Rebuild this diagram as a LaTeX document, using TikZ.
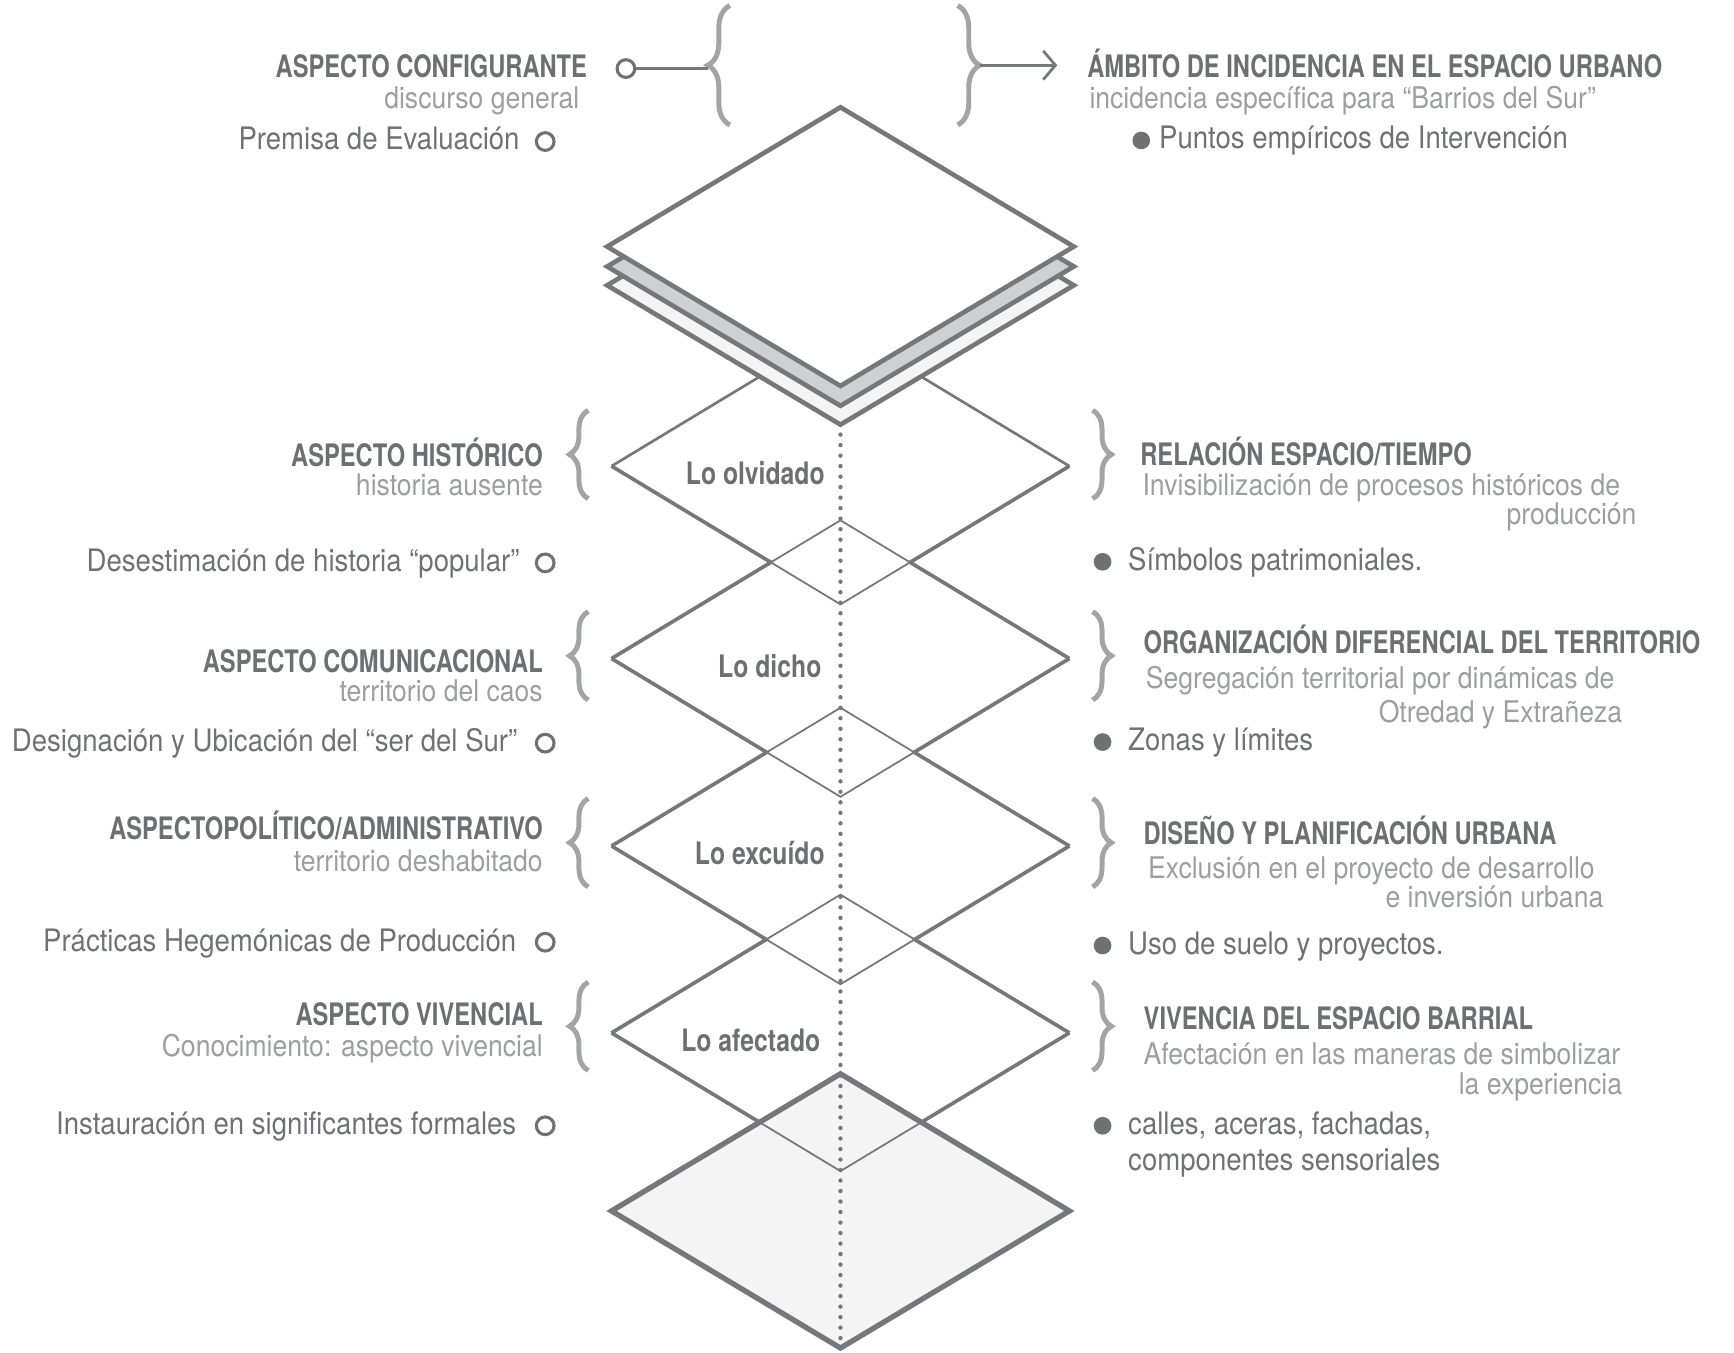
\documentclass[tikz,border=0pt]{standalone}
\usepackage{fontspec}
\setmainfont{TeX Gyre Heros}[FakeStretch=0.89]
\newfontfamily\headfont{TeX Gyre Heros}[FakeStretch=0.765]
\newfontfamily\lofont{TeX Gyre Heros}[FakeStretch=0.8]
\definecolor{rim}{HTML}{76777B}
\definecolor{headgray}{HTML}{6E6F73}
\definecolor{itemgray}{HTML}{707175}
\definecolor{subgray}{HTML}{9D9EA1}
\definecolor{bracegray}{HTML}{A3A4A7}
\definecolor{midsheet}{HTML}{CFD0D2}
\definecolor{lowsheet}{HTML}{F4F4F4}
\usetikzlibrary{arrows.meta, positioning, calc, decorations.pathreplacing}
\tikzset{
  aspect/.style={font=\headfont\bfseries\fontsize{28}{30}\selectfont, text=headgray, inner sep=0pt},
  sub/.style={font=\fontsize{27}{30}\selectfont, text=subgray, inner sep=0pt},
  item/.style={font=\fontsize{28}{30}\selectfont, text=itemgray, inner sep=0pt},
  stratum/.style={font=\lofont\bfseries\fontsize{28}{30}\selectfont, text=headgray, inner sep=0pt, anchor=base east},
  hollow/.style={circle, draw=itemgray, line width=2.8pt, inner sep=0pt, minimum size=16pt},
  bullet/.style={circle, fill=itemgray, inner sep=0pt, minimum size=16pt},
  rimline/.style={draw=rim, line width=3.3pt},
  seam/.style={draw=rim, line width=1.6pt, line join=miter},
  sheet/.style={draw=rim, line width=4.2pt, line join=miter},
  curly/.style={draw=bracegray, line width=4.5pt, decorate, decoration={brace, amplitude=#1}},
  curly/.default=17pt,
  link/.style={draw=rim, line width=2pt},
  dotline/.style={draw=rim, line width=4pt, line cap=round, dash pattern=on 0pt off 9.5pt},
}

\begin{document}
\begin{tikzpicture}[x=1pt, y=-1pt]
  \useasboundingbox (0,0) rectangle (1568,1223);

  % base sheet
  \draw[sheet, line width=4.8pt, fill=lowsheet] (553,1095) -- (760,971) -- (967,1095) -- (760,1219) -- cycle;
  % strata: outer edges thick, overlaps thin
  \foreach \ca/\cb in {421.5/595.5, 595.5/765, 765/934, 934/1095} {
    \pgfmathsetmacro\ym{(\ca+\cb)/2}
    \pgfmathsetmacro\dx{207*(1-(\cb-\ca)/250)}
    \draw[rimline] (553,\ca) -- (760-\dx,\ym) (760-\dx,\ym) -- (553,\cb)
                   (967,\ca) -- (760+\dx,\ym) (760+\dx,\ym) -- (967,\cb);
    \draw[seam] (760-\dx,\ym) -- (760,\ca+125) -- (760+\dx,\ym) -- (760,\cb-125) -- cycle;
  }
  \draw[rimline, line width=2.4pt] (553,421.5) -- (760,296.5) -- (967,421.5);
  % stacked sheets on top
  \foreach \off/\tone in {35/lowsheet, 18/midsheet, 0/white}
    \draw[sheet, fill=\tone] (549,223+\off) -- (760,97+\off) -- (971,223+\off) -- (760,349+\off) -- cycle;
  \coordinate (axis-top) at (760,393);
  \coordinate (axis-end) at (760,1215);
  \draw[dotline] (axis-top) -- (axis-end);

  \node[stratum] (olvidado) at (746,438.5) {Lo olvidado};
  \node[stratum] (dicho) at (743,612.5) {Lo dicho};
  \node[stratum] (excluido) at (746,782) {Lo excuído};
  \node[stratum] (afectado) at (742,951) {Lo afectado};

  % top row
  \node[aspect, anchor=base east] (cfg-head) at (531,70) {ASPECTO CONFIGURANTE};
  \node[sub, anchor=base east] (cfg-sub) at (524,98) {discurso general};
  \node[item, anchor=base east] (cfg-item) at (470,135) {Premisa de Evaluación};
  \node[hollow] (cfg-mark) at (493,128) {};
  \node[hollow, minimum size=16pt] (cfg-ring) at (566,62) {};
  \coordinate (cfg-brace) at (640,62);
  \draw[curly=20pt] (660,113) -- (660,5);
  \draw[link] (cfg-ring) -- (cfg-brace);
  \draw[curly=20pt] (866,5) -- (866,113);
  \coordinate (amb-brace) at (886,59);
  \coordinate (amb-tip) at (956,59);
  \draw[link, line width=2.5pt, -{Straight Barb[length=11pt, width=26pt]}] (amb-brace) -- (amb-tip);
  \node[aspect, anchor=base west] (amb-head) at (983,70) {ÁMBITO DE INCIDENCIA EN EL ESPACIO URBANO};
  \node[sub, anchor=base west] (amb-sub) at (985,98) {incidencia específica para “Barrios del Sur”};
  \node[bullet] (amb-dot) at (1032,127) {};
  \node[item, anchor=base west] (amb-item) at (1048,134) {Puntos empíricos de Intervención};

  % left column
  \node[aspect, anchor=base east] (hist-head) at (491,422) {ASPECTO HISTÓRICO};
  \node[sub, anchor=base east] (hist-sub) at (491,448) {historia ausente};
  \node[item, anchor=base east] (hist-item) at (470,517) {Desestimación de historia “popular”};
  \node[hollow] (hist-mark) at (493,509) {};
  \node[aspect, anchor=base east] (com-head) at (491,608) {ASPECTO COMUNICACIONAL};
  \node[sub, anchor=base east] (com-sub) at (491,634) {territorio del caos};
  \node[item, anchor=base east] (com-item) at (468,680) {Designación y Ubicación del “ser del Sur”};
  \node[hollow] (com-mark) at (493,672) {};
  \node[aspect, anchor=base east] (pol-head) at (491,759) {ASPECTOPOLÍTICO/ADMINISTRATIVO};
  \node[sub, anchor=base east] (pol-sub) at (491,788) {territorio deshabitado};
  \node[item, anchor=base east] (pol-item) at (467,860) {Prácticas Hegemónicas de Producción};
  \node[hollow] (pol-mark) at (493,852) {};
  \node[aspect, anchor=base east] (viv-head) at (491,927) {ASPECTO VIVENCIAL};
  \node[sub, anchor=base east] (viv-sub) at (491,955) {Conocimiento: aspecto vivencial};
  \node[item, anchor=base east] (viv-item) at (467,1026) {Instauración en significantes formales};
  \node[hollow] (viv-mark) at (493,1018) {};
  \foreach \top/\bot in {371/451, 553/633, 722/802, 888/968} {
    \draw[curly] (532,\bot) -- (532,\top);
    \draw[curly] (988,\top) -- (988,\bot);
  }

  % right column
  \node[aspect, anchor=base west] (rel-head) at (1031,421) {RELACIÓN ESPACIO/TIEMPO};
  \node[sub, anchor=base west] (rel-sub) at (1033,448) {Invisibilización de procesos históricos de};
  \node[sub, anchor=base east] (rel-sub2) at (1480,474) {producción};
  \node[bullet] (rel-dot) at (997,508) {};
  \node[item, anchor=base west] (rel-item) at (1020,516) {Símbolos patrimoniales.};
  \node[aspect, anchor=base west] (org-head) at (1034,591) {ORGANIZACIÓN DIFERENCIAL DEL TERRITORIO};
  \node[sub, anchor=base west] (org-sub) at (1036,623) {Segregación territorial por dinámicas de};
  \node[sub, anchor=base east] (org-sub2) at (1467,653) {Otredad y Extrañeza};
  \node[bullet] (org-dot) at (997,671) {};
  \node[item, anchor=base west] (org-item) at (1020,679) {Zonas y límites};
  \node[aspect, anchor=base west] (dis-head) at (1034,764) {DISEÑO Y PLANIFICACIÓN URBANA};
  \node[sub, anchor=base west] (dis-sub) at (1038,794) {Exclusión en el proyecto de desarrollo};
  \node[sub, anchor=base east] (dis-sub2) at (1450,821) {e inversión urbana};
  \node[bullet] (dis-dot) at (997,855) {};
  \node[item, anchor=base west] (dis-item) at (1020,863) {Uso de suelo y proyectos.};
  \node[aspect, anchor=base west] (bar-head) at (1034,931) {VIVENCIA DEL ESPACIO BARRIAL};
  \node[sub, anchor=base west] (bar-sub) at (1034,963) {Afectación en las maneras de simbolizar};
  \node[sub, anchor=base east] (bar-sub2) at (1467,990) {la experiencia};
  \node[bullet] (bar-dot) at (997,1018) {};
  \node[item, anchor=base west] (bar-item) at (1020,1026) {calles, aceras, fachadas,};
  \node[item, anchor=base west] (bar-item2) at (1020,1058) {componentes sensoriales};
\end{tikzpicture}
\end{document}
